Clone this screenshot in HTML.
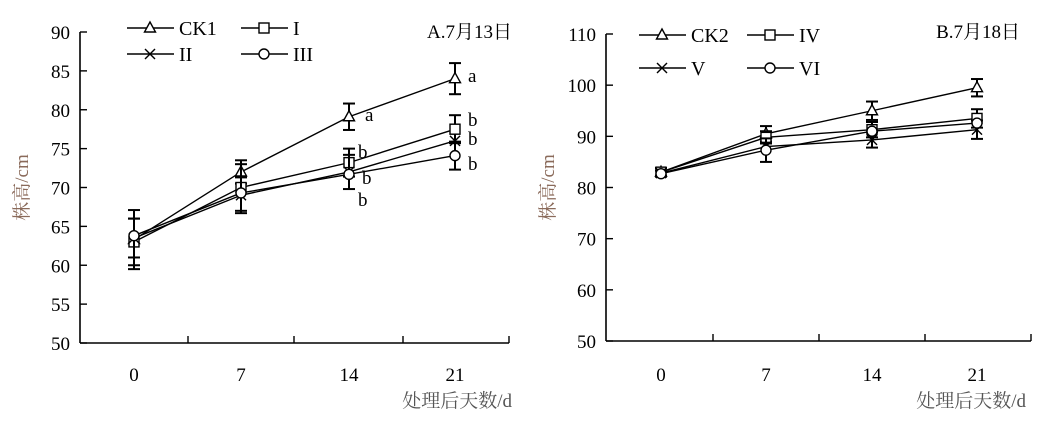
<!DOCTYPE html>
<html><head><meta charset="utf-8"><style>
body{margin:0;background:#fff;width:1063px;height:417px;overflow:hidden}
svg text{font-family:"Liberation Serif","Noto Serif CJK SC",serif;fill:#000}
</style></head><body>
<svg id="s" width="1063" height="417" xmlns="http://www.w3.org/2000/svg"></svg>
<script>
const S=document.getElementById('s');const NS='http://www.w3.org/2000/svg';
function el(t,a,txt){const e=document.createElementNS(NS,t);for(const k in a)e.setAttribute(k,a[k]);if(txt!==undefined)e.textContent=txt;S.appendChild(e);return e;}
function mark(type,x,y){
 const st={fill:'#fff',stroke:'#000','stroke-width':1.4};
 if(type=='t')el('polygon',Object.assign({points:`${x},${y-6} ${x-5.5},${y+4} ${x+5.5},${y+4}`},st));
 if(type=='s')el('rect',Object.assign({x:x-5,y:y-5,width:10,height:10},st));
 if(type=='x'){el('line',{x1:x-5,y1:y-5,x2:x+5,y2:y+5,stroke:'#000','stroke-width':1.4});el('line',{x1:x-5,y1:y+5,x2:x+5,y2:y-5,stroke:'#000','stroke-width':1.4});}
 if(type=='o')el('circle',Object.assign({cx:x,cy:y,r:5},st));
}
function chart(c){
 const Y=v=>c.y0-(v-c.vmin)*(c.y0-c.y1)/(c.vmax-c.vmin);
 el('line',{x1:c.ax,y1:c.y1,x2:c.ax,y2:c.y0,stroke:'#000','stroke-width':1.6});
 el('line',{x1:c.ax,y1:c.y0,x2:c.xe,y2:c.y0,stroke:'#000','stroke-width':1.6});
 for(const t of c.xt)el('line',{x1:t,y1:c.y0,x2:t,y2:c.y0-7,stroke:'#000','stroke-width':1.4});
 for(let v=c.vmin;v<=c.vmax;v+=c.step){const y=Y(v);el('line',{x1:c.ax,y1:y,x2:c.ax+7,y2:y,stroke:'#000','stroke-width':1.4});
  el('text',{x:c.ax-10,y:y+7,'font-size':19,'text-anchor':'end'},v);}
 ['0','7','14','21'].forEach((l,i)=>el('text',{x:c.cx[i],y:381,'font-size':19,'text-anchor':'middle'},l));
 el('text',{x:c.xlab,y:407,'font-size':19,'text-anchor':'end',style:'fill:#555'},'处理后天数/d');
 el('text',{transform:`translate(${c.ax-52},${(c.y0+c.y1)/2}) rotate(-90)`,'font-size':19,'text-anchor':'middle',style:'fill:#8a6a5a'},'株高/cm');
 el('text',{x:c.tx,y:38,'font-size':19,'text-anchor':'end'},c.title);
 c.series.forEach(s=>{
  const pts=s.v.map((v,i)=>c.cx[i]+','+Y(v)).join(' ');
  el('polyline',{points:pts,fill:'none',stroke:'#000','stroke-width':1.4});
  s.v.forEach((v,i)=>{const e=s.e[i];if(e){const x=c.cx[i];
   el('line',{x1:x,y1:Y(v-e),x2:x,y2:Y(v+e),stroke:'#000','stroke-width':2});
   el('line',{x1:x-6,y1:Y(v-e),x2:x+6,y2:Y(v-e),stroke:'#000','stroke-width':2});
   el('line',{x1:x-6,y1:Y(v+e),x2:x+6,y2:Y(v+e),stroke:'#000','stroke-width':2});}});
  s.v.forEach((v,i)=>mark(s.m,c.cx[i],Y(v)));
 });
 c.legend.forEach(L=>{el('line',{x1:L[0],y1:L[1],x2:L[0]+47,y2:L[1],stroke:'#000','stroke-width':1.4});mark(L[2],L[0]+23,L[1]);
  el('text',{x:L[0]+52,y:L[1]+7,'font-size':20},L[3]);});
 (c.lett||[]).forEach(t=>el('text',{x:t[0],y:t[1],'font-size':19},t[2]));
}
chart({ax:80,xe:509,y0:343,y1:32,vmin:50,vmax:90,step:5,xt:[188,294,403,509],cx:[134,241,349,455],xlab:512,tx:512,title:'A.7月13日',
 series:[{m:'t',v:[63.3,72,79.1,84],e:[3.8,1.5,1.7,2]},{m:'s',v:[63,70,73.2,77.5],e:[3,3,1.8,1.8]},{m:'x',v:[63.5,69,72,76],e:[2.5,2.3,2.2,0]},{m:'o',v:[63.8,69.3,71.7,74.1],e:[0,0,0,1.8]}],
 legend:[[127,28,'t','CK1'],[241,28,'s','I'],[127,54,'x','II'],[241,54,'o','III']],
 lett:[[468,82,'a'],[365,121,'a'],[468,126,'b'],[468,145,'b'],[468,170,'b'],[358,158,'b'],[362,184,'b'],[358,206,'b']]});
chart({ax:606,xe:1031,y0:341,y1:34,vmin:50,vmax:110,step:10,xt:[713,819,925,1031],cx:[661,766,872,977],xlab:1026,tx:1020,title:'B.7月18日',
 series:[{m:'t',v:[83,90.5,95,99.5],e:[0.8,1.5,1.8,1.7]},{m:'s',v:[83,89.8,91.3,93.5],e:[0.8,1.2,1.5,1.8]},{m:'x',v:[82.8,88,89.3,91.3],e:[0.5,0,1.5,1.8]},{m:'o',v:[82.7,87.3,91,92.6],e:[0,2.3,0,0]}],
 legend:[[639,35,'t','CK2'],[747,35,'s','IV'],[639,68,'x','V'],[747,68,'o','VI']]});
</script>
</body></html>
